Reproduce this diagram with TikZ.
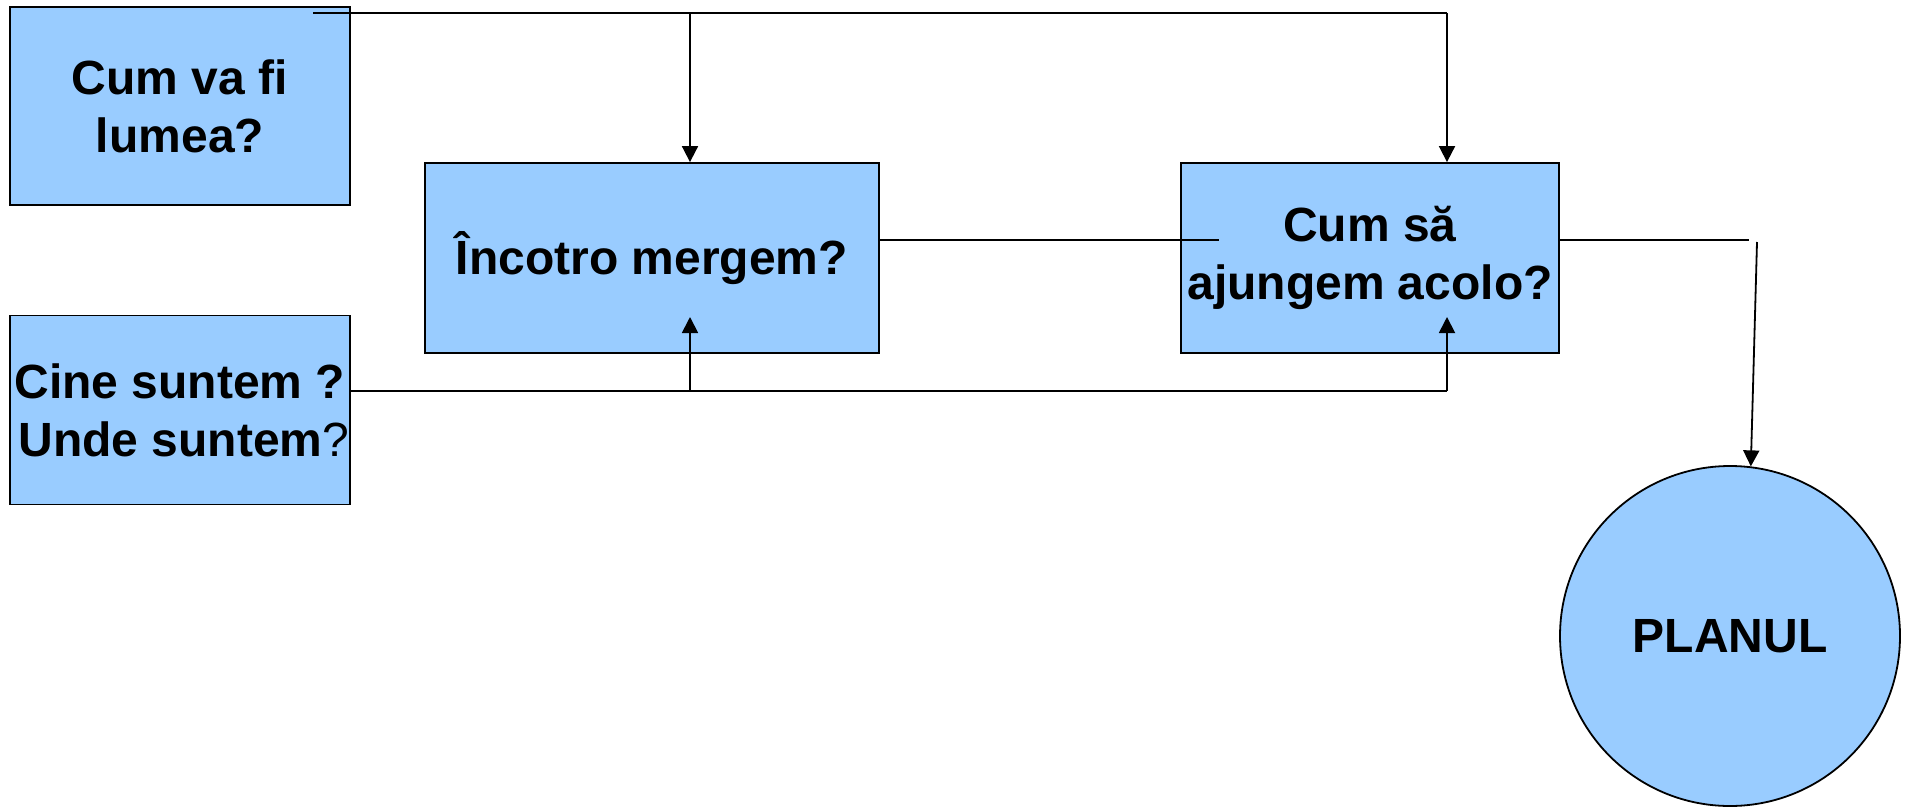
\documentclass[tikz,border=0pt]{standalone}
\usepackage{fontspec}
\setmainfont{Liberation Sans}
\usepackage{xcolor}
\usepackage{tikz}
\usetikzlibrary{arrows.meta, positioning}
\definecolor{boxblue}{RGB}{153,204,255}

\begin{document}
\begin{tikzpicture}[x=1pt, y=-1pt,
    box/.style={draw, line width=1.8pt, fill=boxblue, inner sep=0pt, align=center,
        font=\fontsize{48}{58}\selectfont\bfseries},
    conn/.style={line width=1.8pt},
    tip/.style={conn, -{Triangle[width=16pt, length=16pt]}}]
    \useasboundingbox (0,0) rectangle (1911,808);

    \node[box, minimum width=340, minimum height=198] (lumea) at (180,106) {Cum va fi\\lumea?};
    \node[box, minimum width=340, minimum height=189] (cine) at (180,410) {Cine suntem ?\\ \,Unde suntem{\mdseries ?}};
    \node[box, minimum width=454, minimum height=190] (incotro) at (652,258) {Încotro mergem?};
    \node[box, minimum width=378, minimum height=190] (cum) at (1370,258) {Cum să\\ajungem acolo?};
    \node[box, circle, minimum size=340] (plan) at (1730,636) {PLANUL};

    % top line, from lumea down into both boxes
    \coordinate (top) at (313,13);
    \coordinate (topC) at (690,13);
    \coordinate (topD) at (1447,13);
    \draw[conn] (top) -- (topD);
    \draw[tip] (topC) -- (topC |- incotro.north);
    \draw[tip] (topD) -- (topD |- cum.north);

    % bottom line, from cine up into both boxes
    \coordinate (botC) at (690,391);
    \coordinate (botD) at (1447,391);
    \coordinate (inC) at (690,317);
    \coordinate (inD) at (1447,317);
    \draw[conn] (cine.east |- botD) -- (botD);
    \draw[tip] (botC) -- (inC);
    \draw[tip] (botD) -- (inD);

    % middle and right
    \coordinate (mid) at (1219,240);
    \coordinate (turn) at (1749,240);
    \coordinate (down) at (1757,242);
    \draw[conn] (incotro.east |- mid) -- (mid);
    \draw[conn] (cum.east |- turn) -- (turn);
    \draw[tip] (down) -- (plan.83);
\end{tikzpicture}
\end{document}
